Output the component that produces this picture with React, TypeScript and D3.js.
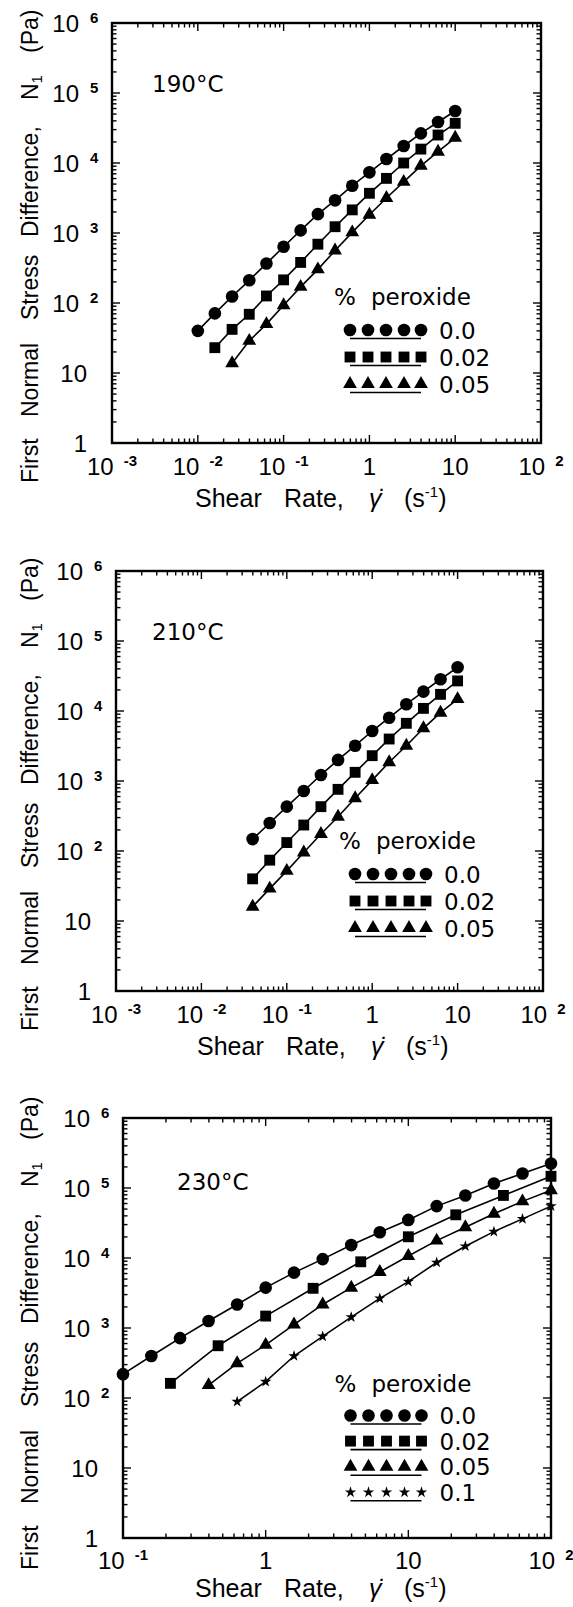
import React from 'react';
import * as d3 from 'd3';

// ---------------- data ----------------
const peroxideLabels = ['0.0', '0.02', '0.05', '0.1'];

// 190 °C
const rate190_p000 = [0.01, 0.0158, 0.0251, 0.0398, 0.0631, 0.1, 0.158, 0.251, 0.398, 0.631, 1, 1.58, 2.51, 3.98, 6.31, 10];
const n1_190_p000 = [40, 71, 124, 211, 366, 637, 1090, 1860, 2930, 4740, 7360, 11400, 17500, 26500, 38500, 55300];
const rate190_p002 = [0.0158, 0.0251, 0.0398, 0.0631, 0.1, 0.158, 0.251, 0.398, 0.631, 1, 1.58, 2.51, 3.98, 6.31, 10];
const n1_190_p002 = [23, 42, 69, 126, 214, 380, 692, 1230, 2140, 3690, 6030, 10000, 15800, 25100, 36900];
const rate190_p005 = [0.0251, 0.0398, 0.0631, 0.1, 0.158, 0.251, 0.398, 0.631, 1, 1.58, 2.51, 3.98, 6.31, 10];
const n1_190_p005 = [13.8, 28.8, 50, 93, 170, 302, 562, 1020, 1820, 3160, 5370, 9120, 14500, 22900];

// 210 °C
const rate210 = [0.0398, 0.0631, 0.1, 0.158, 0.251, 0.398, 0.631, 1, 1.58, 2.51, 3.98, 6.31, 10];
const n1_210_p000 = [148, 251, 430, 719, 1220, 2000, 3190, 5180, 8020, 12500, 18900, 28400, 42100];
const n1_210_p002 = [40, 74, 132, 235, 430, 760, 1330, 2300, 3980, 6670, 10900, 17300, 26900];
const n1_210_p005 = [16, 29, 52, 95, 175, 309, 566, 1030, 1850, 3190, 5660, 9460, 14800];

// 230 °C
const rate230_p000 = [0.1, 0.158, 0.251, 0.398, 0.631, 1, 1.58, 2.51, 3.98, 6.31, 10, 15.8, 25.1, 39.8, 63.1, 100];
const n1_230_p000 = [219, 398, 716, 1260, 2170, 3770, 6180, 9640, 15300, 23300, 35000, 55100, 78300, 116000, 161000, 224000];
const rate230_p002 = [0.215, 0.464, 1, 2.15, 4.64, 10, 21.5, 46.4, 100];
const n1_230_p002 = [162, 558, 1480, 3690, 8830, 20100, 41400, 78300, 147000];
const rate230_p005 = [0.398, 0.631, 1, 1.58, 2.51, 3.98, 6.31, 10, 15.8, 25.1, 39.8, 63.1, 100];
const n1_230_p005 = [153, 313, 575, 1120, 2170, 3770, 6320, 10700, 17700, 27500, 42800, 64400, 92700];
const rate230_p010 = [0.631, 1, 1.58, 2.51, 3.98, 6.31, 10, 15.8, 25.1, 39.8, 63.1, 100];
const n1_230_p010 = [88.5, 171, 398, 759, 1430, 2650, 4600, 8630, 14700, 23800, 36200, 55100];

// tick labels: [value, base, exponent]
const xTicksWide: [number, string, string][] = [
  [1e-3, '10', '-3'], [1e-2, '10', '-2'], [1e-1, '10', '-1'], [1, '1', ''], [10, '10', ''], [100, '10', '2'],
];
const xTicksNarrow: [number, string, string][] = [
  [1e-1, '10', '-1'], [1, '1', ''], [10, '10', ''], [100, '10', '2'],
];
const yTicks: [number, string, string][] = [
  [1, '1', ''], [10, '10', ''], [100, '10', '2'], [1e3, '10', '3'], [1e4, '10', '4'], [1e5, '10', '5'], [1e6, '10', '6'],
];

const titles = ['190°C', '210°C', '230°C'];

// ---------------- styling / layout ----------------
const FONT = "'Liberation Sans', Arial, Helvetica, sans-serif";
const FONT2 = "'DejaVu Sans', 'Liberation Sans', sans-serif";

const SHAPES: Record<string, { type: d3.SymbolType; size: number }> = {
  circle: { type: d3.symbolCircle, size: 125 },
  square: { type: d3.symbolSquare, size: 118 },
  triangle: { type: d3.symbolTriangle, size: 82 },
  star: { type: d3.symbolStar, size: 40 },
};
const shapeOrder = ['circle', 'square', 'triangle', 'star'];

type SeriesDef = { rates: number[]; values: number[]; shape: string; label: string };
type PanelDef = {
  title: string;
  xDomain: [number, number];
  xTicks: [number, string, string][];
  left: number; right: number; top: number; bottom: number;
  titleX: number; titleY: number;
  legendX: number; legendY: number; legendFirst: number; legendGap: number;
  yLabelBottom: number; xLabelX: number; xLabelY: number; xTickDy: number;
  series: SeriesDef[];
};

const mk = (rates: number[], values: number[], i: number): SeriesDef => ({
  rates, values, shape: shapeOrder[i], label: peroxideLabels[i],
});

const panels: PanelDef[] = [
  {
    title: titles[0], xDomain: [1e-3, 1e2], xTicks: xTicksWide,
    left: 112, right: 541, top: 23, bottom: 443,
    titleX: 152, titleY: 92,
    legendX: 334, legendY: 305, legendFirst: 25, legendGap: 27,
    yLabelBottom: 483, xLabelX: 195, xLabelY: 507, xTickDy: 32,
    series: [mk(rate190_p000, n1_190_p000, 0), mk(rate190_p002, n1_190_p002, 1), mk(rate190_p005, n1_190_p005, 2)],
  },
  {
    title: titles[1], xDomain: [1e-3, 1e2], xTicks: xTicksWide,
    left: 116, right: 543, top: 571, bottom: 991,
    titleX: 152, titleY: 640,
    legendX: 339, legendY: 849, legendFirst: 25, legendGap: 27,
    yLabelBottom: 1031, xLabelX: 197, xLabelY: 1055, xTickDy: 32,
    series: [mk(rate210, n1_210_p000, 0), mk(rate210, n1_210_p002, 1), mk(rate210, n1_210_p005, 2)],
  },
  {
    title: titles[2], xDomain: [1e-1, 1e2], xTicks: xTicksNarrow,
    left: 123, right: 551, top: 1118, bottom: 1538,
    titleX: 177, titleY: 1190,
    legendX: 334.5, legendY: 1392, legendFirst: 23.5, legendGap: 25.6,
    yLabelBottom: 1570, xLabelX: 195, xLabelY: 1597, xTickDy: 31,
    series: [mk(rate230_p000, n1_230_p000, 0), mk(rate230_p002, n1_230_p002, 1), mk(rate230_p005, n1_230_p005, 2), mk(rate230_p010, n1_230_p010, 3)],
  },
];

const isMajor = (v: number) => Math.abs(Math.log10(v) - Math.round(Math.log10(v))) < 1e-6;

function Panel({ p }: { p: PanelDef }) {
  const x = d3.scaleLog().domain(p.xDomain).range([p.left, p.right]);
  const y = d3.scaleLog().domain([1, 1e6]).range([p.bottom, p.top]);
  const line = d3.line<[number, number]>().x((d) => x(d[0])).y((d) => y(d[1]));
  const MAJ = 8, MIN = 4.5;

  const xt = x.ticks();
  const yt = y.ticks();

  const legendSymX = [16, 34, 52, 70, 87];

  return (
    <g>
      {/* ticks */}
      <g stroke="#000" strokeWidth={1.4}>
        {xt.map((v, i) => {
          const len = isMajor(v) ? MAJ : MIN;
          const xx = x(v);
          return (
            <g key={'x' + i}>
              <line x1={xx} x2={xx} y1={p.bottom} y2={p.bottom - len} />
              <line x1={xx} x2={xx} y1={p.top} y2={p.top + len} />
            </g>
          );
        })}
        {yt.map((v, i) => {
          const len = isMajor(v) ? MAJ : MIN;
          const yy = y(v);
          return (
            <g key={'y' + i}>
              <line x1={p.left} x2={p.left + len} y1={yy} y2={yy} />
              <line x1={p.right} x2={p.right - len} y1={yy} y2={yy} />
            </g>
          );
        })}
      </g>
      {/* frame */}
      <rect x={p.left} y={p.top} width={p.right - p.left} height={p.bottom - p.top} fill="none" stroke="#000" strokeWidth={2.4} />

      {/* x tick labels */}
      {p.xTicks.map(([v, b, e], i) => (
        <text key={'xl' + i} x={x(v)} y={p.bottom + p.xTickDy} textAnchor="middle" fontFamily={FONT} fontSize={24} fill="#000">
          {b}
          {e && (
            <tspan dx={10} dy={-9} fontSize={15} fontWeight="bold">{e}</tspan>
          )}
        </text>
      ))}
      {/* y tick labels */}
      {yTicks.map(([v, b, e], i) => (
        <g key={'yl' + i}>
          <text x={e ? p.left - 33 : p.left - 25} y={y(v) + 8.5} textAnchor="end" fontFamily={FONT} fontSize={24} fill="#000">{b}</text>
          {e && (
            <text x={p.left - 22} y={y(v) + 0} fontFamily={FONT} fontSize={15} fontWeight="bold" fill="#000">{e}</text>
          )}
        </g>
      ))}

      {/* axis titles */}
      <text transform={`translate(38,${p.yLabelBottom}) rotate(-90)`} fontFamily={FONT} fontSize={23} fill="#000">
        <tspan x={0}>First</tspan>
        <tspan x={66}>Normal</tspan>
        <tspan x={163}>Stress</tspan>
        <tspan x={246}>Difference,</tspan>
        <tspan x={383}>N</tspan>
        <tspan dy={4} fontSize={15}>1</tspan>
        <tspan x={430} dy={-4}>(Pa)</tspan>
      </text>
      <text x={p.xLabelX} y={p.xLabelY} fontFamily={FONT} fontSize={25} fill="#000">
        <tspan x={p.xLabelX}>Shear</tspan>
        <tspan x={p.xLabelX + 89}>Rate,</tspan>
        <tspan x={p.xLabelX + 174} fontStyle="italic">{'\u03B3\u0307'}</tspan>
        <tspan x={p.xLabelX + 209}>(s</tspan>
        <tspan dy={-10} fontSize={15}>-1</tspan>
        <tspan dy={10}>)</tspan>
      </text>

      {/* title */}
      <text x={p.titleX} y={p.titleY} fontFamily={FONT2} fontSize={23} fill="#000">{p.title}</text>

      {/* data */}
      {p.series.map((s, si) => {
        const pts = s.rates.map((r, i) => [r, s.values[i]] as [number, number]);
        const sym = d3.symbol().type(SHAPES[s.shape].type).size(SHAPES[s.shape].size)();
        return (
          <g key={'s' + si}>
            <path d={line(pts) || ''} fill="none" stroke="#000" strokeWidth={1.6} />
            {pts.map((d, i) => (
              <path key={i} d={sym || ''} transform={`translate(${x(d[0])},${y(d[1])})`} fill="#000" />
            ))}
          </g>
        );
      })}

      {/* legend */}
      <g fontFamily={FONT2} fontSize={23} fill="#000">
        <text x={p.legendX} y={p.legendY}>%</text>
        <text x={p.legendX + 37} y={p.legendY}>peroxide</text>
        {p.series.map((s, si) => {
          const sy = p.legendY + p.legendFirst + si * p.legendGap;
          const sym = d3.symbol().type(SHAPES[s.shape].type).size(SHAPES[s.shape].size)();
          return (
            <g key={'lg' + si}>
              {legendSymX.map((dx, k) => (
                <path key={k} d={sym || ''} transform={`translate(${p.legendX + dx},${sy})`} fill="#000" />
              ))}
              <line x1={p.legendX + 16} x2={p.legendX + 87} y1={sy + 8.5} y2={sy + 8.5} stroke="#000" strokeWidth={1.6} />
              <text x={p.legendX + 105} y={sy + 8.5}>{s.label}</text>
            </g>
          );
        })}
      </g>
    </g>
  );
}

export default function App() {
  return (
    <svg
      width={573}
      height={1607}
      viewBox="0 0 573 1607"
      style={{ position: 'absolute', left: 0, top: 0, background: '#fff', display: 'block' }}
    >
      <rect x={0} y={0} width={573} height={1607} fill="#fff" />
      {panels.map((p, i) => (
        <Panel key={i} p={p} />
      ))}
    </svg>
  );
}
